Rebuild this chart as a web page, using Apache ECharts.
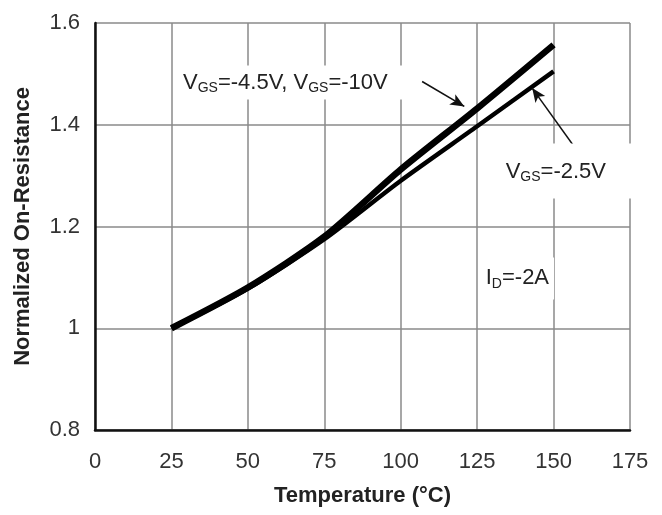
<!DOCTYPE html>
<html>
<head>
<meta charset="utf-8">
<script src="https://cdn.jsdelivr.net/npm/echarts@6/dist/echarts.min.js"></script>
<style>
  html, body { margin: 0; padding: 0; background: #fff; }
  #chart { width: 662px; height: 515px; }
</style>
</head>
<body>
<div id="chart"></div>
<script>
// Junction temperature (°C)
const temperatures = [25, 50, 75, 100, 125, 150];
// Normalized RDS(on) for VGS = -4.5 V and VGS = -10 V (curves coincide)
const rdsVgs45and10 = [1.0, 1.08, 1.18, 1.312, 1.432, 1.557];
// Normalized RDS(on) for VGS = -2.5 V
const rdsVgs25 = [1.0, 1.078, 1.175, 1.29, 1.397, 1.505];

// Axis ranges and tick spacing
const xAxisRange = [0, 175];
const xTickStep = 25;
const yAxisRange = [0.8, 1.6];
const yTickStep = 0.2;

// Annotation anchors in data units [temperature, normalized RDS(on)]
const labelHighVgsAt = [64.4, 1.483];
const labelLowVgsAt = [154.0, 1.309];
const labelIdAt = [138.0, 1.098];
const arrowHighVgs = [[107, 1.485], [120.8, 1.436]];
const arrowLowVgs = [[158.3, 1.344], [143, 1.472]];

const FONT = '"Liberation Sans", Arial, Helvetica, sans-serif';

const rich = {
  v: { fontFamily: FONT, fontSize: 22, color: '#222', lineHeight: 26, verticalAlign: 'middle' },
  s: { fontFamily: FONT, fontSize: 14, color: '#222', lineHeight: 26, verticalAlign: 'bottom' }
};

// Text note with a white box that hides the grid behind it
function noteLabel(text, padding) {
  return {
    show: true,
    position: 'inside',
    formatter: text,
    rich: rich,
    backgroundColor: '#fff',
    padding: padding
  };
}

const chart = echarts.init(document.getElementById('chart'), null, { renderer: 'canvas' });

chart.setOption({
  animation: false,
  backgroundColor: '#fff',
  grid: { left: 95, right: 32, top: 23, bottom: 85, containLabel: false },
  xAxis: {
    type: 'value',
    min: xAxisRange[0],
    max: xAxisRange[1],
    interval: xTickStep,
    name: 'Temperature (°C)',
    nameLocation: 'middle',
    nameGap: 55,
    nameTextStyle: { fontFamily: FONT, fontSize: 22, fontWeight: 'bold', color: '#222' },
    axisLine: { show: true, onZero: false, lineStyle: { color: '#111', width: 2.5 } },
    axisTick: { show: false },
    axisLabel: { fontFamily: FONT, fontSize: 22, color: '#333', margin: 21 },
    splitLine: { show: true, lineStyle: { color: '#8a8a8a', width: 1.5 } }
  },
  yAxis: {
    type: 'value',
    min: yAxisRange[0],
    max: yAxisRange[1],
    interval: yTickStep,
    name: 'Normalized On-Resistance',
    nameLocation: 'middle',
    nameGap: 61,
    nameTextStyle: { fontFamily: FONT, fontSize: 22, fontWeight: 'bold', color: '#222' },
    axisLine: { show: true, onZero: false, lineStyle: { color: '#111', width: 2.5 } },
    axisTick: { show: false },
    axisLabel: {
      fontFamily: FONT, fontSize: 22, color: '#333', margin: 15,
      formatter: v => String(Math.round(v * 10) / 10)
    },
    splitLine: { show: true, lineStyle: { color: '#8a8a8a', width: 1.5 } }
  },
  series: [
    {
      name: 'VGS=-4.5V, VGS=-10V',
      type: 'line',
      data: temperatures.map((t, i) => [t, rdsVgs45and10[i]]),
      symbol: 'none',
      smooth: 0.25,
      lineStyle: { color: '#000', width: 6.5 },
      z: 3,
      markPoint: {
        silent: true,
        symbol: 'rect',
        symbolSize: 0,
        itemStyle: { color: 'rgba(0,0,0,0)' },
        data: [
          {
            coord: labelHighVgsAt,
            label: noteLabel('{v|V}{s|GS}{v|=-4.5V, V}{s|GS}{v|=-10V}', [4, 18, 4, 5])
          }
        ]
      },
      markLine: {
        silent: true,
        symbol: ['none', 'arrow'],
        symbolSize: [9, 14],
        label: { show: false },
        lineStyle: { color: '#111', width: 1.5, type: 'solid' },
        data: [[{ coord: arrowHighVgs[0] }, { coord: arrowHighVgs[1] }]]
      }
    },
    {
      name: 'VGS=-2.5V',
      type: 'line',
      data: temperatures.map((t, i) => [t, rdsVgs25[i]]),
      symbol: 'none',
      smooth: 0.25,
      lineStyle: { color: '#000', width: 4.5 },
      z: 3,
      markPoint: {
        silent: true,
        symbol: 'rect',
        symbolSize: 0,
        itemStyle: { color: 'rgba(0,0,0,0)' },
        data: [
          { coord: labelLowVgsAt, label: noteLabel('{v|V}{s|GS}{v|=-2.5V}', [15, 27, 14, 7]) },
          { coord: labelIdAt, label: noteLabel('{v|I}{s|D}{v|=-2A}', [8, 5, 8, 6]) }
        ]
      },
      markLine: {
        silent: true,
        symbol: ['none', 'arrow'],
        symbolSize: [9, 14],
        label: { show: false },
        lineStyle: { color: '#111', width: 1.5, type: 'solid' },
        data: [[{ coord: arrowLowVgs[0] }, { coord: arrowLowVgs[1] }]]
      }
    }
  ]
});
</script>
</body>
</html>
